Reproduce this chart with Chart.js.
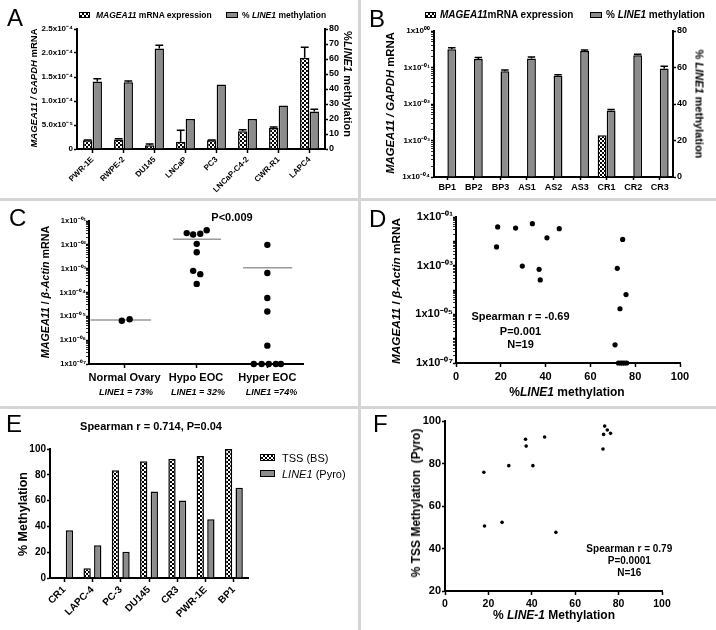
<!DOCTYPE html>
<html>
<head>
<meta charset="utf-8">
<title>MAGEA11 and LINE1 methylation</title>
<script src="https://cdn.jsdelivr.net/npm/chart.js@4.4.1/dist/chart.umd.min.js"></script>
<style>
  body { margin: 0; background: #fff; }
  #fig { position: relative; width: 716px; height: 630px; overflow: hidden; font-family: "Liberation Sans", Arial, sans-serif; color: #000; }
  #fig canvas { position: absolute; }
  .t { position: absolute; white-space: nowrap; font-weight: bold; line-height: 1; transform: translate(-50%, -50%); }
  .l { position: absolute; white-space: nowrap; font-weight: bold; line-height: 1; transform: translateY(-50%); }
  .letter { position: absolute; font-size: 24px; line-height: 1; }
  .sw { position: absolute; box-sizing: border-box; border: 1px solid #000; }
  .chk { background: repeating-conic-gradient(#000 0 25%, #fff 0 50%) 0 0 / 4px 4px; }
  .gry { background: #8c8c8c; }
  .sep { position: absolute; background: #d5d5d5; }
</style>
</head>
<body>
<div id="fig">
  <canvas id="cA" width="358" height="199" style="left:0;top:0"></canvas>
  <canvas id="cB" width="358" height="199" style="left:358px;top:0"></canvas>
  <canvas id="cC" width="358" height="208" style="left:0;top:199px"></canvas>
  <canvas id="cD" width="358" height="208" style="left:358px;top:199px"></canvas>
  <canvas id="cE" width="358" height="223" style="left:0;top:407px"></canvas>
  <canvas id="cF" width="358" height="223" style="left:358px;top:407px"></canvas>

  <div class="sep" style="left:358px;top:0;width:3px;height:630px"></div>
  <div class="sep" style="left:0;top:198px;width:716px;height:3px"></div>
  <div class="sep" style="left:0;top:406px;width:716px;height:3px"></div>

  <!-- A -->
  <div class="letter" style="left:7px;top:6px">A</div>
  <div class="sw chk" style="left:79px;top:12px;width:11px;height:6px"></div>
  <div class="l" style="left:96px;top:14.5px;font-size:8.5px"><i>MAGEA11</i> mRNA expression</div>
  <div class="sw gry" style="left:226px;top:12px;width:12px;height:6px"></div>
  <div class="l" style="left:242px;top:14.5px;font-size:8.5px">% <i>LINE1</i> methylation</div>
  <div class="t" style="left:33.5px;top:88px;font-size:9.5px;transform:translate(-50%,-50%) rotate(-90deg)"><i>MAGEA11 / GAPDH</i> mRNA</div>
  <div class="t" style="left:347px;top:84px;font-size:11px;transform:translate(-50%,-50%) rotate(90deg)">%<i>LINE1</i> methylation</div>

  <!-- B -->
  <div class="letter" style="left:369px;top:7px">B</div>
  <div class="sw chk" style="left:425px;top:12px;width:11px;height:6px"></div>
  <div class="l" style="left:440px;top:15px;font-size:10px"><i>MAGEA11</i>mRNA expression</div>
  <div class="sw gry" style="left:590px;top:12px;width:12px;height:6px"></div>
  <div class="l" style="left:606px;top:15px;font-size:10px">% <i>LINE1</i> methylation</div>
  <div class="t" style="left:391px;top:103px;font-size:11.3px;transform:translate(-50%,-50%) rotate(-90deg)"><i>MAGEA11 / GAPDH</i> mRNA</div>
  <div class="t" style="left:699px;top:104px;font-size:11px;transform:translate(-50%,-50%) rotate(90deg)">% <i>LINE1</i> methylation</div>

  <!-- C -->
  <div class="letter" style="left:9px;top:206px">C</div>
  <div class="t" style="left:232px;top:216.7px;font-size:11px">P&lt;0.009</div>
  <div class="t" style="left:45px;top:291.5px;font-size:10.7px;transform:translate(-50%,-50%) rotate(-90deg)"><i>MAGEA11</i> / <i>β-Actin</i> mRNA</div>
  <div class="t" style="left:126px;top:392.3px;font-size:9px"><i>LINE1 = 73%</i></div>
  <div class="t" style="left:198px;top:392.3px;font-size:9px"><i>LINE1 = 32%</i></div>
  <div class="t" style="left:271.5px;top:392.3px;font-size:9px"><i>LINE1 =74%</i></div>

  <!-- D -->
  <div class="letter" style="left:369px;top:207px">D</div>
  <div class="t" style="left:397px;top:291px;font-size:11.8px;transform:translate(-50%,-50%) rotate(-90deg)"><i>MAGEA11</i> / <i>β-Actin</i> mRNA</div>
  <div class="t" style="left:567px;top:391.7px;font-size:12px">%<i>LINE1</i> methylation</div>
  <div class="t" style="left:520.5px;top:315.7px;font-size:11px">Spearman r = -0.69</div>
  <div class="t" style="left:520.5px;top:330.7px;font-size:11px">P=0.001</div>
  <div class="t" style="left:520.5px;top:343.5px;font-size:11px">N=19</div>

  <!-- E -->
  <div class="letter" style="left:6px;top:412px">E</div>
  <div class="t" style="left:151px;top:425.5px;font-size:11px">Spearman r = 0.714, P=0.04</div>
  <div class="sw chk" style="left:260px;top:454px;width:15px;height:7px"></div>
  <div class="l" style="left:282px;top:457.7px;font-size:11px;font-weight:normal">TSS (BS)</div>
  <div class="sw gry" style="left:260px;top:470px;width:15px;height:7px"></div>
  <div class="l" style="left:282px;top:474px;font-size:11px;font-weight:normal"><i>LINE1</i> (Pyro)</div>
  <div class="t" style="left:23px;top:514px;font-size:12.5px;transform:translate(-50%,-50%) rotate(-90deg)">% Methylation</div>

  <!-- F -->
  <div class="letter" style="left:373px;top:412px">F</div>
  <div class="t" style="left:416px;top:503px;font-size:12px;transform:translate(-50%,-50%) rotate(-90deg)">% TSS Methylation&nbsp;&nbsp;(Pyro)</div>
  <div class="t" style="left:554px;top:615px;font-size:12px">% <i>LINE-1</i> Methylation</div>
  <div class="t" style="left:629.3px;top:549.3px;font-size:10px">Spearman r = 0.79</div>
  <div class="t" style="left:629.3px;top:561px;font-size:10px">P=0.0001</div>
  <div class="t" style="left:629.3px;top:572.7px;font-size:10px">N=16</div>
</div>

<script>
// ---- data ----
// A: prostate cell lines
const aCells = ['PWR-1E', 'RWPE-2', 'DU145', 'LNCaP', 'PC3', 'LNCaP-C4-2', 'CWR-R1', 'LAPC4'];
const aMagea = [1.8e-5, 2.0e-5, 8e-6, 1.5e-5, 1.8e-5, 3.7e-5, 4.4e-5, 1.9e-4];
const aMageaErr = [1e-6, 1.5e-6, 2.5e-6, 2.4e-5, 1e-6, 3e-6, 2e-6, 2.2e-5];
const aLine1 = [45, 44.5, 67, 20, 43, 20, 29, 25];
const aLine1Err = [1.8, 0.8, 2.2, 0, 0, 0, 0, 1.5];
const aTickLabels = ['0', '5.0x10⁻⁵', '1.0x10⁻⁴', '1.5x10⁻⁴', '2.0x10⁻⁴', '2.5x10⁻⁴'];

// B: tissue samples
const bSamples = ['BP1', 'BP2', 'BP3', 'AS1', 'AS2', 'AS3', 'CR1', 'CR2', 'CR3'];
const bMagea = [null, null, null, null, null, null, 1.4e-3, null, null];
const bLine1 = [70, 64.7, 58, 65, 55.5, 69, 36.5, 66.7, 59.5];
const bLine1Err = [0.8, 0.8, 0.6, 0.8, 0.5, 0.6, 0.5, 0.5, 1.2];
const bTickLabels = ['1x10⁻⁰⁴', '1x10⁻⁰³', '1x10⁻⁰²', '1x10⁻⁰¹', '1x10⁰⁰']; // 1e-4 .. 1e0

// C: ovarian groups
const cGroups = ['Normal Ovary', 'Hypo EOC', 'Hyper EOC'];
const cNormal = [6.5e-6, 7.5e-6];
const cHypo = [3.1e-2, 2.7e-2, 2.9e-2, 4.1e-2, 1.1e-2, 4.9e-3, 8.1e-4, 5.9e-4, 2.3e-4];
const cHyper = [1e-2, 6.6e-4, 5.9e-5, 1.6e-5, 5.9e-7, 1e-7, 1e-7, 1e-7, 1e-7, 1e-7];
const cJitter = [
  [-0.04, 0.07],
  [-0.13, -0.04, 0.06, 0.15, 0.01, 0.01, -0.04, 0.06, 0.01],
  [0, 0, 0, 0, 0, -0.19, -0.08, 0.02, 0.12, 0.19]
];
const cMedians = [7e-6, 1.7e-2, 1.1e-3];
const cTickLabels = ['1x10⁻⁰⁷', '1x10⁻⁰⁶', '1x10⁻⁰⁵', '1x10⁻⁰⁴', '1x10⁻⁰³', '1x10⁻⁰²', '1x10⁻⁰¹'];

// D: LINE1 vs MAGEA11
const dLine1 = [18.6, 26.6, 34.1, 46.1, 40.6, 18.1, 29.6, 37.1, 37.6, 74.4, 72.0, 75.9, 73.2, 71.0, 72.5, 73.5, 74.3, 75.2, 76.2];
const dMagea = [3.9e-2, 3.5e-2, 5.3e-2, 3.3e-2, 1.4e-2, 5.9e-3, 9.6e-4, 7.1e-4, 2.6e-4, 1.2e-2, 7.8e-4, 6.5e-5, 1.7e-5, 5.6e-7, 1e-7, 1e-7, 1e-7, 1e-7, 1e-7];
const dTickLabels = ['1x10⁻⁰⁷', '', '1x10⁻⁰⁵', '', '1x10⁻⁰³', '', '1x10⁻⁰¹'];

// E: TSS vs LINE1 by sample
const eSamples = ['CR1', 'LAPC-4', 'PC-3', 'DU145', 'CR3', 'PWR-1E', 'BP1'];
const eTSS = [null, 7.5, 83.5, 90.5, 92.5, 94.5, 100];
const eLine1 = [37, 25.3, 20.4, 67, 60, 45.5, 70];

// F: LINE-1 vs TSS methylation
const fLine1 = [73.6, 74.8, 76.3, 73.1, 72.8, 37.1, 37.4, 45.9, 29.4, 40.5, 17.9, 18.2, 26.3, 51.1];
const fTSS = [97.6, 95.8, 94.2, 93.7, 86.8, 91.4, 88.2, 92.5, 79.0, 79.0, 75.9, 50.6, 52.3, 47.6];

// ---- styling helpers ----
const GRAY = '#8c8c8c';
Chart.defaults.font.family = "'Liberation Sans', Arial, sans-serif";
Chart.defaults.font.weight = 'bold';
Chart.defaults.color = '#000';
Chart.defaults.animation = false;
Chart.defaults.plugins.legend.display = false;
Chart.defaults.plugins.tooltip.enabled = false;

function checker() {
  const c = document.createElement('canvas');
  c.width = 4; c.height = 4;
  const g = c.getContext('2d');
  g.fillStyle = '#fff'; g.fillRect(0, 0, 4, 4);
  g.fillStyle = '#000'; g.fillRect(0, 0, 2, 2); g.fillRect(2, 2, 2, 2);
  return g.createPattern(c, 'repeat');
}
const CHK = checker();

function decade(v) {
  const e = Math.round(Math.log10(v));
  return Math.abs(v / Math.pow(10, e) - 1) < 1e-6 ? e : null;
}
function logTicks(lo, hi) {
  return s => {
    const t = [];
    for (let e = lo; e < hi; e++) for (let m = 1; m < 10; m++) t.push({ value: m * Math.pow(10, e) });
    t.push({ value: Math.pow(10, hi) });
    s.ticks = t;
  };
}
const border = { color: '#000', width: 2 };
function grid(len) {
  return { drawOnChartArea: false, tickLength: len, tickColor: '#000', tickWidth: 1.5, offset: false };
}
function logGrid(len) {
  return { drawOnChartArea: false, tickLength: len, tickColor: '#000',
    tickWidth: c => (c.tick && decade(c.tick.value) !== null ? 1.5 : 0.8) };
}
const width = w => s => { s.width = w; };
const height = h => s => { s.height = h; };

// error bars drawn from the bar's own scale
const errorBars = {
  id: 'errorBars',
  afterDatasetsDraw(chart) {
    const ctx = chart.ctx;
    chart.data.datasets.forEach((ds, i) => {
      if (!ds.errors) return;
      const scale = chart.scales[ds.yAxisID];
      chart.getDatasetMeta(i).data.forEach((bar, j) => {
        const v = ds.data[j], e = ds.errors[j];
        if (v == null || !e) return;
        const y0 = scale.getPixelForValue(v), y1 = scale.getPixelForValue(v + e);
        const half = bar.width * 0.42;
        ctx.save();
        ctx.strokeStyle = '#000';
        ctx.lineWidth = 1.5;
        ctx.beginPath();
        ctx.moveTo(bar.x, y0); ctx.lineTo(bar.x, y1);
        ctx.moveTo(bar.x - half, y1); ctx.lineTo(bar.x + half, y1);
        ctx.stroke();
        ctx.restore();
      });
    });
  }
};

// ---- A ----
new Chart(document.getElementById('cA'), {
  type: 'bar',
  data: {
    labels: aCells,
    datasets: [
      { data: aMagea, errors: aMageaErr, yAxisID: 'y', backgroundColor: CHK, borderColor: '#000', borderWidth: 1.5, categoryPercentage: 0.62, barPercentage: 0.97 },
      { data: aLine1, errors: aLine1Err, yAxisID: 'y1', backgroundColor: GRAY, borderColor: '#000', borderWidth: 1.5, categoryPercentage: 0.62, barPercentage: 0.97 }
    ]
  },
  options: {
    responsive: false,
    layout: { padding: { top: 29, left: 0, right: 0, bottom: 0 }, autoPadding: false },
    scales: {
      x: { border, grid: grid(4), ticks: { font: { size: 8 }, minRotation: 45, maxRotation: 45, autoSkip: false, padding: 2 }, afterFit: height(50) },
      y: { position: 'left', min: 0, max: 2.5e-4, border, grid: grid(3),
        ticks: { stepSize: 5e-5, font: { size: 8 }, padding: 1, callback: v => aTickLabels[Math.round(v / 5e-5)] }, afterFit: width(77) },
      y1: { position: 'right', min: 0, max: 80, border, grid: grid(3),
        ticks: { stepSize: 10, font: { size: 9 }, padding: 1 }, afterFit: width(33) }
    }
  },
  plugins: [errorBars]
});

// ---- B ----
new Chart(document.getElementById('cB'), {
  type: 'bar',
  data: {
    labels: bSamples,
    datasets: [
      { data: bMagea, yAxisID: 'y', backgroundColor: CHK, borderColor: '#000', borderWidth: 1.5, categoryPercentage: 0.68, barPercentage: 0.98 },
      { data: bLine1, errors: bLine1Err, yAxisID: 'y1', backgroundColor: GRAY, borderColor: '#000', borderWidth: 1.5, categoryPercentage: 0.68, barPercentage: 0.98 }
    ]
  },
  options: {
    responsive: false,
    layout: { padding: { top: 31, left: 0, right: 0, bottom: 0 }, autoPadding: false },
    scales: {
      x: { border, grid: grid(3), ticks: { font: { size: 9 }, autoSkip: false, maxRotation: 0, padding: 2 }, afterFit: height(22) },
      y: { type: 'logarithmic', position: 'left', min: 1e-4, max: 1, border, grid: logGrid(3),
        afterBuildTicks: logTicks(-4, 0),
        ticks: { autoSkip: false, font: { size: 8 }, padding: 1, callback: v => { const e = decade(v); return e === null ? '' : bTickLabels[e + 4]; } },
        afterFit: width(76) },
      y1: { position: 'right', min: 0, max: 80, border, grid: grid(3),
        ticks: { stepSize: 20, font: { size: 9 }, padding: 1 }, afterFit: width(43) }
    }
  },
  plugins: [errorBars]
});

// ---- C ----
const medExtent = [[-0.48, 0.37], [-0.32, 0.35], [-0.34, 0.35]];
const cDatasets = [cNormal, cHypo, cHyper].map((vals, g) => ({
  data: vals.map((v, i) => ({ x: g + 1 + cJitter[g][i], y: v })),
  backgroundColor: '#000', pointRadius: 3.2, borderWidth: 0, clip: false, order: 0
})).concat(cMedians.map((m, g) => ({
  data: [{ x: g + 1 + medExtent[g][0], y: m }, { x: g + 1 + medExtent[g][1], y: m }],
  showLine: true, borderColor: '#9a9a9a', borderWidth: 1.5, pointRadius: 0, order: 1
})));
new Chart(document.getElementById('cC'), {
  type: 'scatter',
  data: { datasets: cDatasets },
  options: {
    responsive: false,
    layout: { padding: { top: 22, left: 0, right: 55, bottom: 0 }, autoPadding: false },
    scales: {
      x: { type: 'linear', min: 0.5, max: 3.5, border, grid: grid(4),
        afterBuildTicks: s => { s.ticks = cGroups.map((_, i) => ({ value: i + 1 })); },
        ticks: { font: { size: 11 }, autoSkip: false, maxRotation: 0, callback: v => cGroups[Math.round(v) - 1] },
        afterFit: height(43) },
      y: { type: 'logarithmic', min: 1e-7, max: 1e-1, border, grid: logGrid(3),
        afterBuildTicks: logTicks(-7, -1),
        ticks: { autoSkip: false, font: { size: 7.5 }, padding: 0, callback: v => { const e = decade(v); return e === null ? '' : cTickLabels[e + 7]; } },
        afterFit: width(89) }
    }
  }
});

// ---- D ----
new Chart(document.getElementById('cD'), {
  type: 'scatter',
  data: { datasets: [{ data: dLine1.map((x, i) => ({ x, y: dMagea[i] })), backgroundColor: '#000', pointRadius: 2.6, borderWidth: 0, clip: false }] },
  options: {
    responsive: false,
    layout: { padding: { top: 18, left: 0, right: 36, bottom: 0 }, autoPadding: false },
    scales: {
      x: { type: 'linear', min: 0, max: 100, border, grid: grid(4),
        ticks: { stepSize: 20, font: { size: 11 }, maxRotation: 0 }, afterFit: height(44) },
      y: { type: 'logarithmic', min: 1e-7, max: 1e-1, border, grid: logGrid(3),
        afterBuildTicks: logTicks(-7, -1),
        ticks: { autoSkip: false, font: { size: 11 }, padding: 0, callback: v => { const e = decade(v); return e === null ? '' : dTickLabels[e + 7]; } },
        afterFit: width(98) }
    }
  }
});

// ---- E ----
new Chart(document.getElementById('cE'), {
  type: 'bar',
  data: {
    labels: eSamples,
    datasets: [
      { data: eTSS, backgroundColor: CHK, borderColor: '#000', borderWidth: 1.5, categoryPercentage: 0.75, barPercentage: 0.69 },
      { data: eLine1, backgroundColor: GRAY, borderColor: '#000', borderWidth: 1.5, categoryPercentage: 0.75, barPercentage: 0.69 }
    ]
  },
  options: {
    responsive: false,
    layout: { padding: { top: 42, left: 0, right: 110, bottom: 0 }, autoPadding: false },
    scales: {
      x: { border, grid: grid(4), ticks: { font: { size: 10 }, minRotation: 45, maxRotation: 45, autoSkip: false, padding: 2 }, afterFit: height(52) },
      y: { min: 0, max: 100, border, grid: grid(3), ticks: { stepSize: 20, font: { size: 10 }, padding: 1 }, afterFit: width(50) }
    }
  }
});

// ---- F ----
new Chart(document.getElementById('cF'), {
  type: 'scatter',
  data: { datasets: [{ data: fLine1.map((x, i) => ({ x, y: fTSS[i] })), backgroundColor: '#000', pointRadius: 1.8, borderWidth: 0, clip: false }] },
  options: {
    responsive: false,
    layout: { padding: { top: 14, left: 0, right: 54, bottom: 0 }, autoPadding: false },
    scales: {
      x: { type: 'linear', min: 0, max: 100, border, grid: grid(4),
        ticks: { stepSize: 20, font: { size: 10.5 }, maxRotation: 0 }, afterFit: height(39) },
      y: { type: 'linear', min: 20, max: 100, border, grid: grid(3),
        ticks: { stepSize: 20, font: { size: 11 }, padding: 1 }, afterFit: width(87) }
    }
  }
});
</script>
</body>
</html>
